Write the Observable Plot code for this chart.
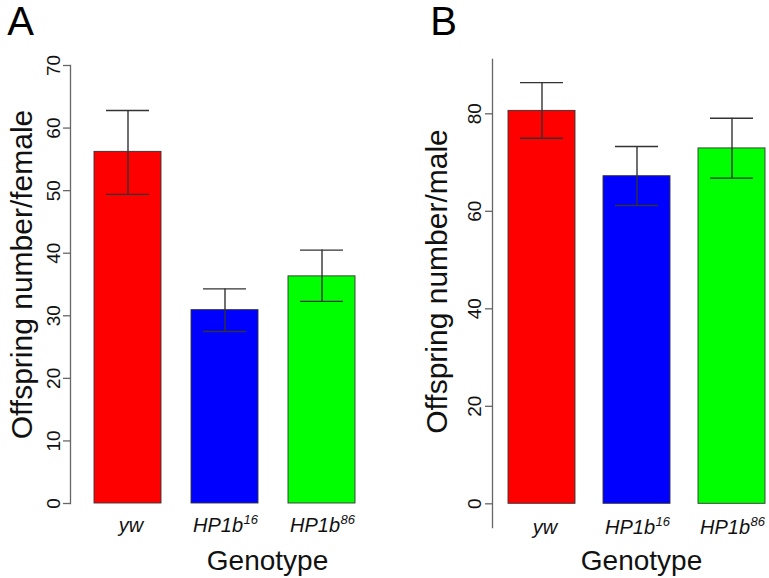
<!DOCTYPE html>
<html><head><meta charset="utf-8">
<script src="https://cdn.jsdelivr.net/npm/d3@7"></script>
<script src="https://cdn.jsdelivr.net/npm/@observablehq/plot@0.6"></script>
<style>
body{margin:0;background:#fff;}
#wrap{position:relative;width:769px;height:578px;overflow:hidden;background:#fff;}
#wrap svg{position:absolute;top:0;background:transparent;}
</style></head><body><div id="wrap"></div>
<script>
const genotypes = ["yw", "HP1b16", "HP1b86"];
const labelBase = ["yw", "HP1b", "HP1b"];
const labelSup = ["", "16", "86"];
const barColors = ["#ff0000", "#0000ff", "#00ff00"];
const femaleMean = [56.2, 30.9, 36.3];
const femaleLow = [49.4, 27.5, 32.3];
const femaleHigh = [62.8, 34.3, 40.5];
const maleMean = [80.6, 67.2, 72.9];
const maleLow = [75.0, 61.2, 66.8];
const maleHigh = [86.4, 73.3, 79.1];
const femaleTicks = [0, 10, 20, 30, 40, 50, 60, 70];
const maleTicks = [0, 20, 40, 60, 80];

const FONT = "Liberation Sans, Arial, Helvetica, sans-serif";

function panel(cfg) {
  const rows = genotypes.map((g, i) => ({
    g, base: labelBase[i], sup: labelSup[i], color: barColors[i],
    mean: cfg.mean[i], low: cfg.low[i], high: cfg.high[i]
  }));
  const mid = {textAnchor: "middle", lineAnchor: "middle"};
  const p = Plot.plot({
    width: cfg.width, height: 578,
    marginLeft: cfg.marginLeft, marginRight: cfg.marginRight,
    marginTop: cfg.marginTop, marginBottom: cfg.marginBottom,
    style: {fontFamily: FONT, background: "transparent", overflow: "visible"},
    x: {domain: genotypes, range: cfg.xRange, paddingInner: cfg.paddingInner, paddingOuter: cfg.paddingOuter, axis: null},
    y: {domain: cfg.yDomain, axis: null},
    color: {type: "identity"},
    marks: [
      Plot.barY(rows, {x: "g", y: "mean", fill: "color", stroke: "#333", strokeWidth: 0.9}),
      Plot.ruleX(rows, {x: "g", y1: "low", y2: "high", stroke: "#333", strokeWidth: 1.4}),
      Plot.tickY(rows, {x: "g", y: "low", stroke: "#333", strokeWidth: 1.4, insetLeft: 12, insetRight: 12}),
      Plot.tickY(rows, {x: "g", y: "high", stroke: "#333", strokeWidth: 1.4, insetLeft: 12, insetRight: 12}),
      Plot.frame({anchor: "left", stroke: "#666", strokeWidth: 1.3}),
      Plot.axisY({ticks: cfg.ticks, tickSize: 7, tickFormat: () => "", stroke: "#666", strokeWidth: 1.3, label: null}),
      Plot.text(cfg.ticks, {...mid, y: d => d, text: d => String(d), frameAnchor: "left", dx: cfg.tickDx, rotate: -90, fontSize: 19, fill: "#111"}),
      Plot.text([cfg.ylabel], {...mid, x: null, y: null, text: d => d, frameAnchor: "left", dx: cfg.ylabelDx, dy: cfg.ylabelDy, rotate: -90, fontSize: 30, fill: "#111"}),
      Plot.text(rows, {...mid, filter: d => d.sup === "", x: "g", text: "base", frameAnchor: "bottom", dx: 3, dy: cfg.catDy, fontSize: 20, fontStyle: "italic", fill: "#111"}),
      Plot.text(rows, {lineAnchor: "middle", filter: d => d.sup !== "", x: "g", text: "base", frameAnchor: "bottom", textAnchor: "end", dx: 18, dy: cfg.catDy, fontSize: 20, fontStyle: "italic", fill: "#111"}),
      Plot.text(rows, {lineAnchor: "middle", filter: d => d.sup !== "", x: "g", text: "sup", frameAnchor: "bottom", textAnchor: "start", dx: 18.5, dy: cfg.catDy - 6, fontSize: 13, fontStyle: "italic", fill: "#111"}),
      Plot.text(["Genotype"], {...mid, x: null, y: null, text: d => d, frameAnchor: "bottom", dx: cfg.genoDx, dy: cfg.genoDy, fontSize: 28, fill: "#111"}),
      Plot.text([cfg.letter], {...mid, x: null, y: null, text: d => d, frameAnchor: "top-left", dx: cfg.letterDx, dy: cfg.letterDy, fontSize: 40, fill: "#000"})
    ]
  });
  p.style.left = cfg.left + "px";
  document.getElementById("wrap").appendChild(p);
}

panel({
  left: 0, width: 420, marginLeft: 70, marginRight: 10, marginTop: 65, marginBottom: 75,
  xRange: [73.5, 374.5], paddingInner: 0.313, paddingOuter: 0.2,
  yDomain: [0, 70], ticks: femaleTicks, tickDx: -17,
  mean: femaleMean, low: femaleLow, high: femaleHigh,
  ylabel: "Offspring number/female", ylabelDx: -48, ylabelDy: -10,
  catDy: 22, genoDx: 27, genoDy: 58, letter: "A", letterDx: -50, letterDy: -43
});

panel({
  left: 420, width: 349, marginLeft: 72, marginRight: 0, marginTop: 59, marginBottom: 51,
  xRange: [68.2, 363.9], paddingInner: 0.297, paddingOuter: 0.2,
  yDomain: [-4.86, 91.14], ticks: maleTicks, tickDx: -18,
  mean: maleMean, low: maleLow, high: maleHigh,
  ylabel: "Offspring number/male", ylabelDx: -55, ylabelDy: -12,
  catDy: 0, genoDx: 10.5, genoDy: 34, letter: "B", letterDx: -49, letterDy: -37
});
</script>
</body></html>
